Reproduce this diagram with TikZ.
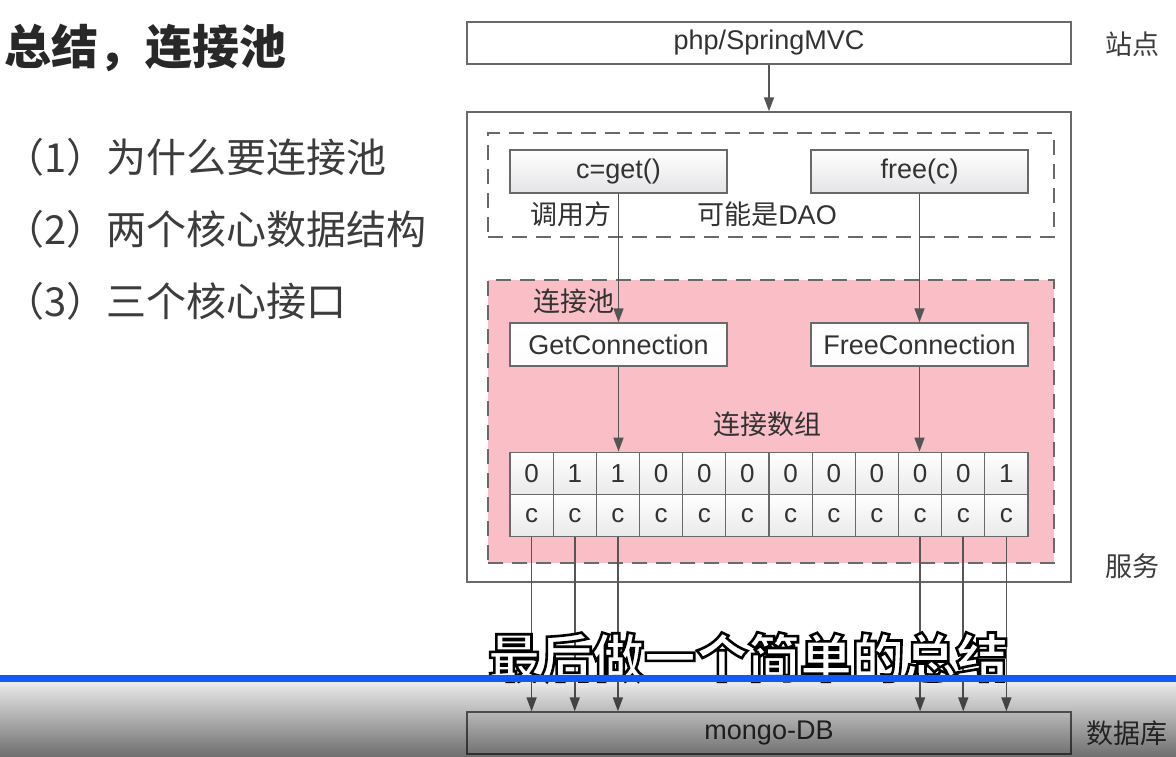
\documentclass[tikz,border=0pt]{standalone}
\usepackage{fontspec}
\setmainfont{Liberation Sans}
\newfontfamily\cjk{Noto Sans CJK SC}
\usetikzlibrary{arrows.meta,fadings}

\definecolor{boxline}{RGB}{105,105,105}
\definecolor{arrowc}{RGB}{85,85,85}
\definecolor{txt}{RGB}{50,50,50}
\definecolor{cellgray}{RGB}{228,228,230}
\definecolor{poolpink}{RGB}{249,190,198}
\definecolor{titlec}{RGB}{40,40,40}
\definecolor{listc}{RGB}{60,60,60}
\definecolor{bluebar}{RGB}{18,90,245}

\tikzfading[name=darken, top color=transparent!92, bottom color=transparent!43]

% white letters with a black outline (fill-and-stroke text rendering)
\newcommand\outlinedtext[1]{%
  \special{pdf:literal direct 2 Tr 2.6 w 0 0 0 RG}#1\special{pdf:literal direct 0 Tr}}

\begin{document}
\begin{tikzpicture}[x=1pt,y=-1pt,
  every node/.style={inner sep=0pt},
  plainbox/.style={draw=boxline, line width=1.4pt, fill=white, text=txt,
    minimum width=604pt, minimum height=42pt, font=\fontsize{27}{30}\selectfont},
  funcbox/.style={draw=boxline, line width=1.4pt, top color=white, bottom color=cellgray,
    text=txt, minimum width=217pt, minimum height=43pt, font=\fontsize{27}{30}\selectfont},
  cell/.style={draw=boxline, line width=1.3pt, top color=white, bottom color=cellgray!80,
    text=txt, minimum width=43.1667pt, minimum height=42.5pt, font=\fontsize{26}{28}\selectfont},
  dashbox/.style={draw=boxline, line width=1.8pt, dash pattern=on 15pt off 9pt},
  lbl/.style={text=txt, font=\cjk\fontsize{27}{30}\selectfont},
  side/.style={text=listc, font=\cjk\fontsize{27}{30}\selectfont},
  item/.style={anchor=west, text=listc, font=\cjk\fontsize{40}{44}\selectfont},
  arr/.style={draw=arrowc, line width=1.6pt, -{Triangle[length=14pt,width=10pt]}}
]
\useasboundingbox (0,0) rectangle (1176,757);
\fill[white] (0,0) rectangle (1176,757);

% heading and outline on the left
\node[anchor=west, text=titlec, font=\cjk\bfseries\fontsize{47}{52}\selectfont] (title) at (4,48) {总结，连接池};
\node[item] (item1) at (4,157) {（1）为什么要连接池};
\node[item] (item2) at (4,229) {（2）两个核心数据结构};
\node[item] (item3) at (4,301) {（3）三个核心接口};

% layers
\node[plainbox] (site) at (769,43) {php/SpringMVC};
\node[draw=boxline, line width=1.4pt, minimum width=604pt, minimum height=470pt] (svc) at (769,347) {};
\node[dashbox, minimum width=566pt, minimum height=104pt] (caller) at (771,185) {};
\node[dashbox, fill=poolpink, minimum width=566pt, minimum height=283pt] (pool) at (771,421.5) {};

% caller side
\node[funcbox] (get) at (618.5,171.5) {c=get()};
\node[funcbox] (free) at (919.5,171.5) {free(c)};
\node[lbl] (callerlbl) at (571,214) {调用方};
\node[lbl] (daolbl) at (767,214) {可能是{\fontspec{Liberation Sans}DAO}};

% pool side
\node[lbl] (poollbl) at (574,301) {连接池};
\node[funcbox, top color=white, bottom color=white!92!cellgray] (gc) at (618.5,344.5) {GetConnection};
\node[funcbox, top color=white, bottom color=white!92!cellgray] (fc) at (919.5,344.5) {FreeConnection};
\node[lbl] (arrlbl) at (767,424) {连接数组};

% connection array: flags and connections
\foreach \v [count=\i] in {0,1,1,0,0,0,0,0,0,0,0,1} {
  \node[cell] (v\i) at ({510+43.1667*(\i-0.5)},473.5) {\v};
  \node[cell] (c\i) at ({510+43.1667*(\i-0.5)},515.5) {c};
}

% database
\node[plainbox, fill=white!96!cellgray] (db) at (769,733) {mongo-DB};

% tier labels
\node[side] (sitelbl) at (1132,44) {站点};
\node[side] (svclbl) at (1132,566) {服务};
\node[side] (dblbl) at (1127,733) {数据库};

% connectors
\draw[arr] (site.south) -- (svc.north);
\draw[arr] (get.south) -- (get.south |- gc.north);
\draw[arr] (free.south) -- (free.south |- fc.north);
\draw[arr] (gc.south) -- (gc.south |- v3.north);
\draw[arr] (fc.south) -- (fc.south |- v10.north);
\foreach \i in {1,2,3,10,11,12}
  \draw[arr] (c\i.south) -- (c\i.south |- db.north);

% subtitle
\node[anchor=base, text=white, font=\cjk\bfseries\fontsize{52}{56}\selectfont]
  (subtitle) at (748,677) {\outlinedtext{最后做一个简单的总结}};

% lower band
\fill[black, path fading=darken] (0,682) rectangle (1176,757);
\fill[bluebar] (0,675) rectangle (1176,682);
\end{tikzpicture}
\end{document}
